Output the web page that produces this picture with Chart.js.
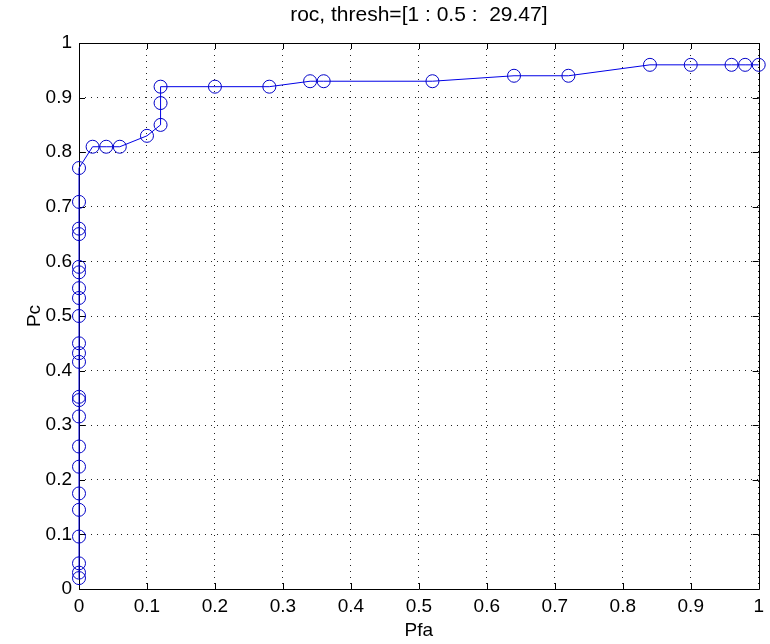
<!DOCTYPE html>
<html>
<head>
<meta charset="utf-8">
<script src="https://cdn.jsdelivr.net/npm/chart.js@4/dist/chart.umd.min.js"></script>
<style>
  html, body { margin: 0; padding: 0; background: #fff; }
  #wrap { width: 770px; height: 644px; }
</style>
</head>
<body>
<div id="wrap"><canvas id="myChart" width="770" height="644"></canvas></div>
<script>
// ROC points (Pfa, Pc)
var pfa = [0, 0, 0, 0, 0, 0, 0, 0, 0, 0, 0, 0, 0, 0, 0, 0, 0, 0, 0, 0, 0, 0, 0,
  0.02, 0.04, 0.06, 0.10, 0.12, 0.12, 0.12, 0.20, 0.28, 0.34, 0.36, 0.52, 0.64, 0.72,
  0.84, 0.90, 0.96, 0.98, 1.00];
var pc = [0.02, 0.03, 0.047, 0.096, 0.145, 0.175, 0.224, 0.261, 0.316, 0.346, 0.352,
  0.416, 0.432, 0.45, 0.50, 0.533, 0.551, 0.58, 0.59, 0.65, 0.66, 0.709, 0.771,
  0.81, 0.81, 0.81, 0.83, 0.85, 0.89, 0.92, 0.92, 0.92, 0.93, 0.93, 0.93, 0.94, 0.94,
  0.96, 0.96, 0.96, 0.96, 0.96];
var xTicks = [0, 0.1, 0.2, 0.3, 0.4, 0.5, 0.6, 0.7, 0.8, 0.9, 1];
var yTicks = [0, 0.1, 0.2, 0.3, 0.4, 0.5, 0.6, 0.7, 0.8, 0.9, 1];
var titleText = 'roc, thresh=[1 : 0.5 :  29.47]';

var points = [];
for (var i in pfa) {
  points.push({ x: pfa[i], y: pc[i] });
}

var fontFamily = '"Liberation Sans", Arial, sans-serif';

// box round the axes and inward ticks, matlab style
var boxPlugin = {
  id: 'boxPlugin',
  beforeDatasetsDraw: function(chart) {
    var ctx = chart.ctx;
    var a = chart.chartArea;
    var xs = chart.scales.x, ys = chart.scales.y;
    ctx.save();
    ctx.strokeStyle = '#000';
    ctx.lineWidth = 1;
    ctx.setLineDash([]);
    ctx.beginPath();
    ctx.rect(Math.round(a.left) + 0.5, Math.round(a.top) + 0.5,
      Math.round(a.right - a.left), Math.round(a.bottom - a.top));
    ctx.stroke();
    var len = 6;
    ctx.beginPath();
    xTicks.forEach(function(v) {
      var px = Math.round(xs.getPixelForValue(v)) + 0.5;
      ctx.moveTo(px, a.bottom); ctx.lineTo(px, a.bottom - len);
      ctx.moveTo(px, a.top); ctx.lineTo(px, a.top + len);
    });
    yTicks.forEach(function(v) {
      var py = Math.round(ys.getPixelForValue(v)) + 0.5;
      ctx.moveTo(a.left, py); ctx.lineTo(a.left + len, py);
      ctx.moveTo(a.right, py); ctx.lineTo(a.right - len, py);
    });
    ctx.stroke();
    ctx.restore();
  }
};

var data = {
  datasets: [{
    label: 'roc',
    data: points,
    showLine: true,
    borderColor: 'rgb(0, 0, 230)',
    backgroundColor: 'rgba(0, 0, 0, 0)',
    borderWidth: 1,
    pointRadius: 6.5,
    pointBorderWidth: 1,
    pointBorderColor: 'rgb(0, 0, 200)',
    pointBackgroundColor: 'rgba(0, 0, 0, 0)',
    clip: false
  }]
};

var config = {
  type: 'scatter',
  data: data,
  plugins: [boxPlugin],
  options: {
    responsive: false,
    animation: false,
    layout: { padding: { right: 2, left: 0, bottom: 0, top: 0 } },
    plugins: {
      legend: { display: false },
      tooltip: { enabled: false },
      title: { display: false }
    },
    scales: {
      x: {
        type: 'linear',
        min: 0,
        max: 1,
        afterBuildTicks: function(scale) {
          scale.ticks = xTicks.map(function(v) { return { value: v }; });
        },
        afterFit: function(scale) { scale.height = 55; },
        grid: { color: '#222', lineWidth: 1, drawTicks: false },
        border: { display: false, dash: [1, 5] },
        ticks: {
          color: '#000',
          padding: 6,
          maxRotation: 0,
          font: { family: fontFamily, size: 19 },
          callback: function(v) { return String(v); }
        },
        title: {
          display: true,
          text: 'Pfa',
          color: '#000',
          font: { family: fontFamily, size: 19 },
          padding: { top: 0, bottom: 2 }
        }
      },
      // top axis only carries the title, so it is centred over the plot box
      top: {
        type: 'linear',
        position: 'top',
        min: 0,
        max: 1,
        afterFit: function(scale) { scale.height = 43; },
        grid: { display: false, drawTicks: false },
        border: { display: false },
        ticks: { display: false },
        title: {
          display: true,
          text: titleText,
          color: '#000',
          font: { family: fontFamily, size: 21 },
          padding: { top: 3, bottom: 0 }
        }
      },
      y: {
        type: 'linear',
        min: 0,
        max: 1,
        afterBuildTicks: function(scale) {
          scale.ticks = yTicks.map(function(v) { return { value: v }; });
        },
        afterFit: function(scale) { scale.width = 79; },
        grid: { color: '#222', lineWidth: 1, drawTicks: false },
        border: { display: false, dash: [1, 5] },
        ticks: {
          color: '#000',
          padding: 7,
          font: { family: fontFamily, size: 19 },
          callback: function(v) { return String(v); }
        },
        title: {
          display: true,
          text: 'Pc',
          color: '#000',
          font: { family: fontFamily, size: 19 },
          padding: { top: 23, bottom: 0 }
        }
      }
    }
  }
};

var myChart = new Chart(document.getElementById('myChart'), config);
</script>
</body>
</html>
